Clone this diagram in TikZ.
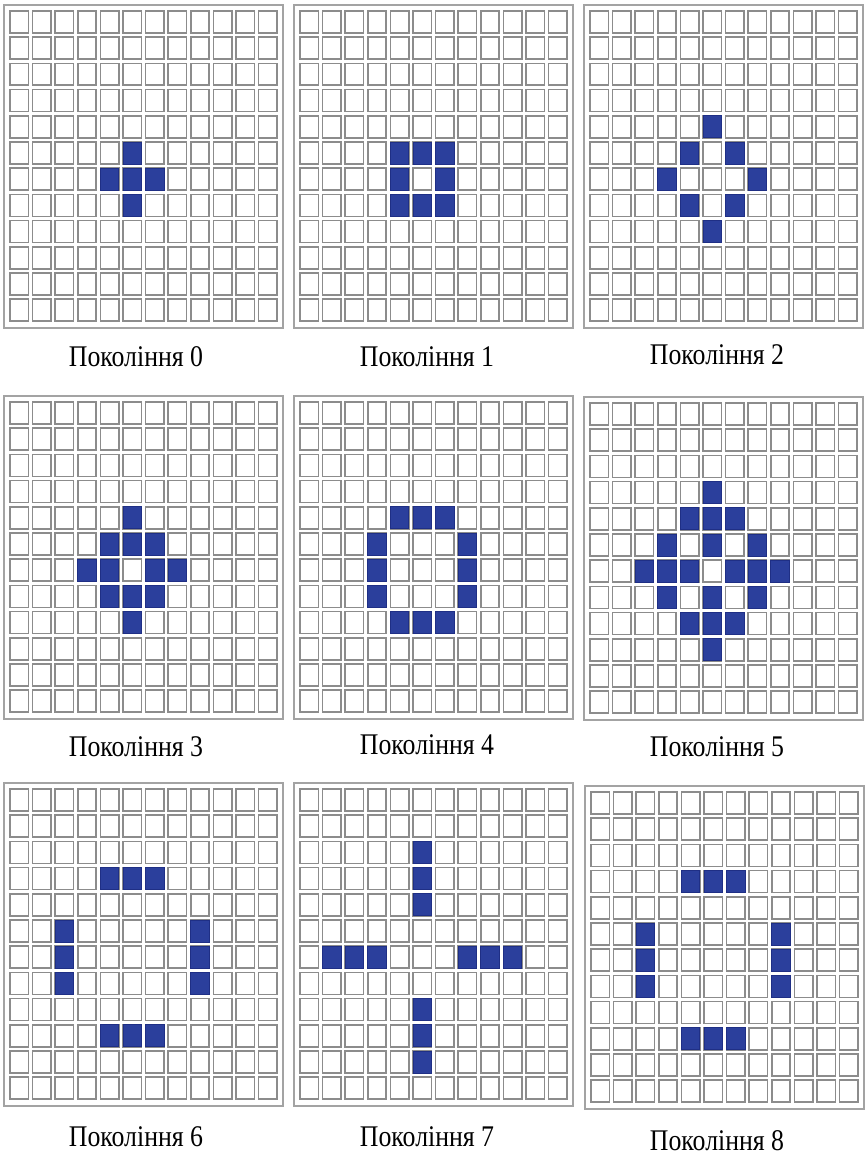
\documentclass[tikz,border=0pt]{standalone}
\usepackage{fontspec}
\setmainfont{Liberation Serif}[FakeStretch=0.86]
\usepackage{tikz}
\usetikzlibrary{positioning}
\usepackage{xcolor}
\definecolor{lifeBlue}{HTML}{2B3F9C}
\definecolor{lifeEdge}{HTML}{1F2F85}
\definecolor{lifeGrey}{HTML}{8C8C8C}

\begin{document}
\begin{tikzpicture}[
  x=0.75pt, y=-0.75pt,
  frame/.style={draw=lifeGrey!80, line width=1.1pt},
  cellbox/.style={draw=lifeGrey, fill=white, line width=1.2pt},
  live/.style={fill=lifeBlue, draw=lifeEdge, line width=0.6pt},
  caption/.style={font=\fontsize{22.5}{26}\selectfont, text=black, inner sep=0pt},
]
\useasboundingbox (0,0) rectangle (865,1156);

% One board: 12 by 12 cells, counted from the top left corner.
\newcommand{\lifegrid}{%
  \draw[frame] (0,0) rectangle (279,323);
  \foreach \c in {0,...,11}
    \foreach \r in {0,...,11}
      \draw[cellbox] ({6+\c*22.6},{6+\r*26.2}) rectangle ++(18.3,21.9);}

% The living cells, given as column/row.
\newcommand{\alive}[1]{%
  \foreach \c/\r in {#1}
    \draw[live] ({6+\c*22.6},{6+\r*26.2}) rectangle ++(18.3,21.9);}

% ============================ first row ======================================
\begin{scope}[shift={(4,5)}]
  \lifegrid
  \alive{5/5, 4/6, 5/6, 6/6, 5/7}
\end{scope}
\node[caption] (cap0) at (136,357) {Покоління 0};

\begin{scope}[shift={(294,5)}]
  \lifegrid
  \alive{4/5, 5/5, 6/5, 4/6, 6/6, 4/7, 5/7, 6/7}
\end{scope}
\node[caption] (cap1) at (427,357) {Покоління 1};

\begin{scope}[shift={(584,5)}]
  \lifegrid
  \alive{5/4, 4/5, 6/5, 3/6, 7/6, 4/7, 6/7, 5/8}
\end{scope}
\node[caption] (cap2) at (717,355) {Покоління 2};

% ============================ second row =====================================
\begin{scope}[shift={(4,396)}]
  \lifegrid
  \alive{5/4, 4/5, 5/5, 6/5, 3/6, 4/6, 6/6, 7/6, 4/7, 5/7, 6/7, 5/8}
\end{scope}
\node[caption] (cap3) at (136,747) {Покоління 3};

\begin{scope}[shift={(294,396)}]
  \lifegrid
  \alive{4/4, 5/4, 6/4, 3/5, 7/5, 3/6, 7/6, 3/7, 7/7, 4/8, 5/8, 6/8}
\end{scope}
\node[caption] (cap4) at (427,745) {Покоління 4};

\begin{scope}[shift={(584,397)}]
  \lifegrid
  \alive{5/3, 4/4, 5/4, 6/4, 3/5, 5/5, 7/5, 2/6, 3/6, 4/6, 6/6, 7/6, 8/6,
         3/7, 5/7, 7/7, 4/8, 5/8, 6/8, 5/9}
\end{scope}
\node[caption] (cap5) at (717,747) {Покоління 5};

% ============================ third row ======================================
\begin{scope}[shift={(4,783)}]
  \lifegrid
  \alive{4/3, 5/3, 6/3, 2/5, 8/5, 2/6, 8/6, 2/7, 8/7, 4/9, 5/9, 6/9}
\end{scope}
\node[caption] (cap6) at (136,1137) {Покоління 6};

\begin{scope}[shift={(294,783)}]
  \lifegrid
  \alive{5/2, 5/3, 5/4, 1/6, 2/6, 3/6, 7/6, 8/6, 9/6, 5/8, 5/9, 5/10}
\end{scope}
\node[caption] (cap7) at (427,1137) {Покоління 7};

\begin{scope}[shift={(585,786)}]
  \lifegrid
  \alive{4/3, 5/3, 6/3, 2/5, 8/5, 2/6, 8/6, 2/7, 8/7, 4/9, 5/9, 6/9}
\end{scope}
\node[caption] (cap8) at (717,1141) {Покоління 8};
\end{tikzpicture}
\end{document}
